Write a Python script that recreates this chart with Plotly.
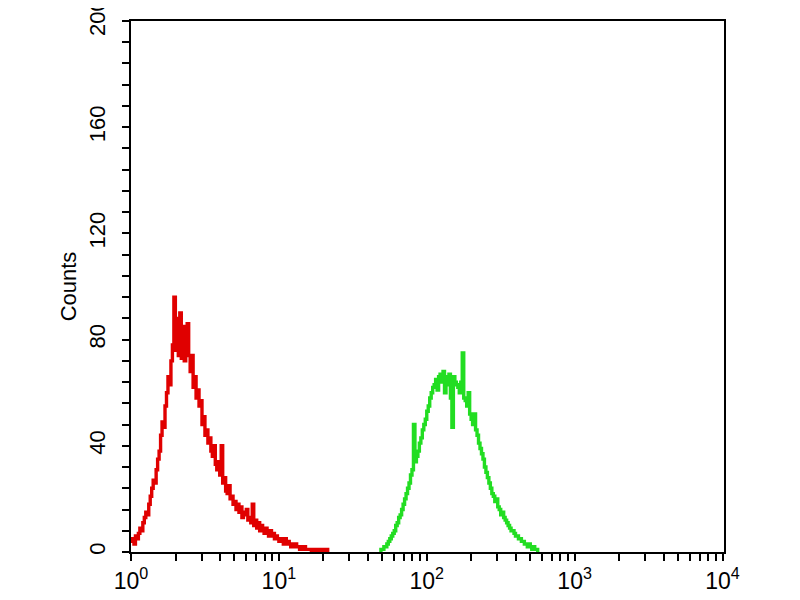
import plotly.graph_objects as go

# Histogram channels: log10 start and step of the channel grid
red_log_start = 0.00
green_log_start = 1.68
log_step = 0.01

# Counts (red = control, green = stained)
red_counts = [
    4, 5, 3, 6, 5, 7, 9, 8, 11, 13,
    15, 14, 18, 21, 24, 27, 26, 31, 35, 38,
    44, 49, 47, 55, 60, 66, 63, 72, 78, 96,
    76, 88, 74, 90, 73, 85, 72, 76, 86, 74,
    68, 74, 62, 66, 58, 61, 55, 57, 48, 51,
    44, 46, 41, 43, 38, 36, 40, 33, 31, 34,
    29, 40, 26, 28, 23, 22, 25, 20, 21, 18,
    19, 16, 18, 15, 17, 13, 15, 14, 16, 12,
    13, 11, 18, 10, 12, 9, 11, 8, 10, 9,
    7, 9, 8, 6, 8, 6, 7, 5, 6, 5,
    4, 5, 4, 3, 5, 3, 4, 3, 2, 3,
    2, 3, 2, 2, 1, 2, 1, 2, 1, 1,
    1, 1, 0, 1, 1, 0, 1, 0, 0, 1,
    0, 0, 1, 0, 0,
]
green_counts = [
    0, 1,
    1, 2, 2, 3, 4, 5, 6, 7, 8, 10,
    11, 13, 14, 16, 18, 20, 22, 24, 26, 29,
    31, 48, 34, 36, 38, 41, 43, 46, 48, 50,
    53, 55, 58, 60, 62, 63, 65, 61, 66, 67,
    64, 68, 60, 66, 63, 67, 58, 47, 66, 64,
    63, 62, 60, 64, 75, 58, 57, 55, 60, 52,
    50, 48, 52, 46, 44, 41, 39, 37, 35, 32,
    30, 28, 26, 24, 22, 21, 19, 20, 17, 16,
    14, 15, 13, 12, 11, 10, 9, 8, 8, 7,
    6, 6, 5, 5, 4, 4, 3, 3, 2, 3,
    2, 1, 2, 1, 1, 0, 0,
]

x_decades = [0, 1, 2, 3, 4]
y_major = [0, 40, 80, 120, 160, 200]
y_minor_step = 8

red_x = [10 ** (red_log_start + log_step * i) for i in range(len(red_counts))]
green_x = [10 ** (green_log_start + log_step * i) for i in range(len(green_counts))]

# tick positions
x_tickvals, x_ticktext = [], []
for d in x_decades:
    x_tickvals.append(10 ** d)
    x_ticktext.append(f"10<sup>{d}</sup>")
    if d < x_decades[-1]:
        for m in range(2, 10):
            x_tickvals.append(m * 10 ** d)
            x_ticktext.append("")

y_tickvals = list(range(0, 201, y_minor_step))
y_ticktext = [str(v) if v in y_major else "" for v in y_tickvals]

fig = go.Figure()
fig.add_trace(go.Scatter(x=red_x, y=red_counts, mode="lines",
                         line=dict(color="#e00000", width=3.4, shape="hv"),
                         showlegend=False))
fig.add_trace(go.Scatter(x=green_x, y=green_counts, mode="lines",
                         line=dict(color="#22dd22", width=3.4, shape="hv"),
                         showlegend=False))

font_family = "Liberation Sans, Arial, sans-serif"
fig.update_layout(
    width=800, height=600,
    margin=dict(l=123, r=84, t=13, b=56),
    paper_bgcolor="white", plot_bgcolor="white",
    font=dict(family=font_family, color="black"),
)
fig.update_xaxes(
    type="log", range=[0, 4.01], automargin=False,
    tickvals=x_tickvals, ticktext=x_ticktext,
    ticks="outside", ticklen=7, tickwidth=1.5, tickcolor="black",
    showline=True, linewidth=2, linecolor="black", mirror=True,
    showgrid=False, zeroline=False,
    tickfont=dict(size=23, family=font_family),
    ticklabeloverflow="allow",
)
fig.update_yaxes(
    range=[0, 200], automargin=False,
    tickvals=y_tickvals, ticktext=y_ticktext, tickangle=-90,
    ticks="outside", ticklen=7, tickwidth=1.5, tickcolor="black",
    showline=True, linewidth=2, linecolor="black", mirror=True,
    showgrid=False, zeroline=False,
    tickfont=dict(size=22, family=font_family),
    ticklabelstandoff=8, ticklabeloverflow="allow",
    title=dict(text="Counts", font=dict(size=22, family=font_family), standoff=3),
)

fig.write_html("out.html")
